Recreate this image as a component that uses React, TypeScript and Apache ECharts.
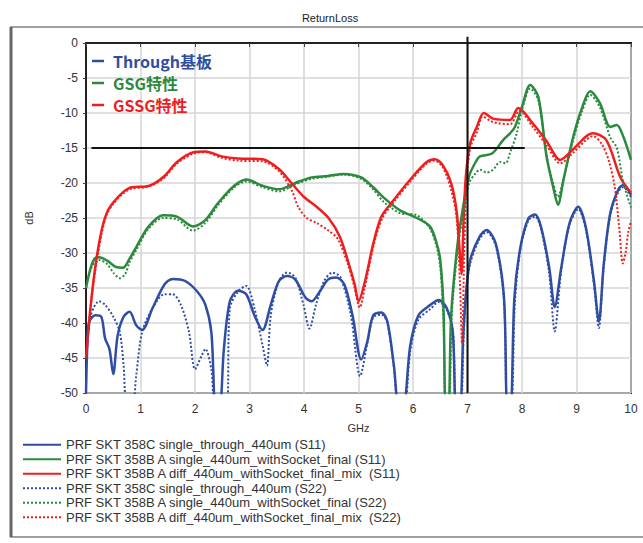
import React, { useEffect, useRef } from "react";
import * as echarts from "echarts";

const titleText = "ReturnLoss";
const xTicks = [0, 1, 2, 3, 4, 5, 6, 7, 8, 9, 10];
const yTicks = [0, -5, -10, -15, -20, -25, -30, -35, -40, -45, -50];

const seriesNames = [
  "PRF SKT 358C single_through_440um (S11)",
  "PRF SKT 358B A single_440um_withSocket_final (S11)",
  "PRF SKT 358B A diff_440um_withSocket_final_mix  (S11)",
  "PRF SKT 358C single_through_440um (S22)",
  "PRF SKT 358B A single_440um_withSocket_final (S22)",
  "PRF SKT 358B A diff_440um_withSocket_final_mix  (S22)",
];

const throughS11: [number, number][] = [
  [0, -50], [0.03, -42], [0.06, -39.8], [0.17, -38.9], [0.28, -39.1], [0.35, -42.2], [0.43, -43.7], [0.5, -47.3],
  [0.58, -41.8], [0.69, -39.1], [0.8, -38.4], [0.92, -40.3], [1.03, -41], [1.22, -37.9], [1.44, -34.5], [1.59, -33.7],
  [1.82, -34], [2.04, -35.5], [2.19, -37.4], [2.3, -41.3], [2.38, -52], [2.45, -52], [2.53, -43.7], [2.64, -36.9],
  [2.79, -35.4], [2.94, -35.9], [3.09, -38.9], [3.24, -41], [3.39, -37.4], [3.54, -34], [3.69, -33.3], [3.84, -33.8],
  [4.03, -36.4], [4.14, -36.9], [4.29, -35.5], [4.44, -33.8], [4.59, -33.5], [4.74, -34.5], [4.89, -38.9], [5.05, -45.2],
  [5.16, -42.7], [5.27, -38.9], [5.42, -38.5], [5.53, -39.8], [5.65, -46.1], [5.74, -52], [5.82, -52], [5.95, -43.2],
  [6.1, -38.9], [6.32, -37.4], [6.47, -36.7], [6.62, -37.9], [6.73, -41.3], [6.79, -52], [6.86, -52], [6.92, -42],
  [6.97, -36], [7.05, -31], [7.22, -27.7], [7.35, -26.7], [7.52, -28.7], [7.67, -36.4], [7.73, -52], [7.79, -52],
  [7.86, -36.4], [7.97, -29.2], [8.12, -25], [8.24, -24.5], [8.35, -26.3], [8.5, -32.1], [8.6, -37.7], [8.72, -32.1],
  [8.87, -25.8], [9.03, -23.4], [9.17, -26.3], [9.32, -34], [9.41, -39.8], [9.5, -31.6], [9.62, -24.3], [9.77, -20.9],
  [9.86, -20.3], [10, -21.7],
];

const throughS22: [number, number][] = [
  [0, -45], [0.09, -38.9], [0.24, -36.9], [0.35, -37.4], [0.5, -39.1], [0.62, -41.3], [0.69, -46.1], [0.75, -52],
  [0.85, -52], [0.92, -47.6], [1.03, -41.3], [1.22, -37.9], [1.44, -35.9], [1.59, -35.9], [1.74, -37.4], [1.89, -41.3],
  [2.0, -46.6], [2.12, -44.7], [2.19, -43.7], [2.3, -46.6], [2.38, -52], [2.57, -52], [2.64, -37.9], [2.79, -35.5],
  [2.94, -34.7], [3.09, -37.9], [3.24, -43.2], [3.32, -46.1], [3.39, -38.9], [3.54, -34], [3.69, -32.8], [3.84, -33.5],
  [3.99, -37.4], [4.1, -40.8], [4.22, -37.4], [4.37, -34], [4.52, -32.8], [4.67, -33.5], [4.86, -38.9], [5.03, -47.6],
  [5.16, -43], [5.27, -39.2], [5.42, -38.8], [5.53, -40], [5.65, -46.5], [5.74, -52], [5.84, -52], [5.95, -44],
  [6.1, -39.5], [6.32, -38], [6.47, -37], [6.6, -37.8], [6.73, -41], [6.79, -52], [6.87, -52], [6.93, -42],
  [6.98, -35], [7.05, -31.5], [7.22, -28], [7.35, -27], [7.52, -29], [7.67, -37], [7.73, -52], [7.8, -52],
  [7.87, -37], [7.97, -29.5], [8.12, -25.3], [8.24, -24.8], [8.35, -26.6], [8.5, -33], [8.6, -41.2], [8.72, -32.5],
  [8.87, -26], [9.03, -23.7], [9.17, -26.6], [9.32, -34.5], [9.41, -40.7], [9.5, -32], [9.62, -24.6], [9.77, -21.2],
  [9.86, -20.6], [10, -22],
];

const gsgS11: [number, number][] = [
  [0, -35], [0.09, -32], [0.17, -30.7], [0.24, -30.6], [0.39, -31.1], [0.55, -32], [0.68, -32.1], [0.8, -30.8],
  [0.92, -29.2], [1.14, -26.3], [1.41, -24.6], [1.67, -24.8], [1.96, -26.2], [2.19, -25.3], [2.42, -22.9], [2.72, -20.4],
  [2.94, -19.5], [3.24, -20.4], [3.54, -20.9], [3.84, -20], [4.14, -19.2], [4.44, -19], [4.72, -18.7], [5.05, -19.2],
  [5.27, -20.6], [5.45, -22], [5.76, -23.9], [6.07, -25], [6.31, -26.2], [6.43, -28.5], [6.5, -31], [6.56, -38],
  [6.6, -52], [6.65, -52], [6.7, -39], [6.81, -29.2], [6.92, -23.4], [7.03, -19], [7.15, -17], [7.23, -16.2],
  [7.45, -15.8], [7.65, -13.9], [7.78, -12.9], [7.87, -12], [8.0, -9.1], [8.15, -6], [8.3, -7.7], [8.45, -16.2],
  [8.57, -20.5], [8.66, -23.1], [8.76, -19.6], [8.94, -13.4], [9.1, -9.3], [9.25, -6.9], [9.43, -8.6], [9.62, -12],
  [9.74, -11.7], [9.86, -13.4], [10, -16.7],
];

const gsgS22: [number, number][] = [
  [0, -35], [0.09, -32.3], [0.17, -31.2], [0.24, -31], [0.39, -31.6], [0.5, -32.8], [0.62, -33.6], [0.72, -33],
  [0.8, -31.3], [0.92, -29.6], [1.14, -26.6], [1.41, -25], [1.67, -25.2], [1.96, -26.8], [2.19, -25.7], [2.42, -23.2],
  [2.72, -20.6], [2.94, -19.8], [3.24, -20.6], [3.54, -21.2], [3.84, -20.2], [4.14, -19.4], [4.44, -19.1], [4.72, -18.8],
  [5.05, -19.4], [5.27, -20.9], [5.45, -22.6], [5.76, -24.3], [6.07, -24.6], [6.31, -26.5], [6.43, -29], [6.5, -32],
  [6.56, -40], [6.6, -52], [6.66, -52], [6.71, -39], [6.82, -29.5], [6.93, -24], [7.03, -20], [7.15, -18.6],
  [7.23, -18.1], [7.35, -18.5], [7.47, -18.1], [7.6, -17], [7.7, -17.2], [7.78, -15.7], [7.9, -13], [8.0, -9.6],
  [8.15, -6.5], [8.3, -8.2], [8.45, -16], [8.57, -20], [8.66, -22], [8.76, -19.4], [8.94, -13.8], [9.1, -9.8],
  [9.25, -7.4], [9.43, -9.2], [9.62, -13.5], [9.74, -15], [9.86, -20], [10, -23.5],
];

const gssgS11: [number, number][] = [
  [0, -45], [0.08, -38], [0.17, -32], [0.28, -27], [0.38, -24.3], [0.5, -22.8], [0.68, -21.3], [0.84, -20.6],
  [1.1, -20.5], [1.25, -20.1], [1.44, -19], [1.67, -17], [1.97, -15.6], [2.19, -15.5], [2.49, -16.2], [2.79, -16.5],
  [3.24, -16.6], [3.54, -18], [3.77, -20], [4.0, -22], [4.23, -23.4], [4.45, -25], [4.66, -27.7], [4.82, -31.5],
  [4.93, -34.5], [5.0, -36.9], [5.12, -34], [5.27, -28.7], [5.42, -24.8], [5.65, -22.4], [5.95, -19.5], [6.25, -17],
  [6.4, -16.6], [6.55, -17.5], [6.7, -20], [6.8, -24], [6.85, -29], [6.89, -33], [6.93, -25], [6.97, -19],
  [7.05, -14.3], [7.17, -12], [7.3, -10], [7.47, -10.8], [7.78, -11], [7.93, -9.3], [8.2, -11.5], [8.45, -14],
  [8.7, -16.7], [8.95, -15.1], [9.17, -13.4], [9.3, -12.9], [9.55, -13.9], [9.8, -19.1], [10, -21.4],
];

const gssgS22: [number, number][] = [
  [0, -45], [0.08, -38], [0.17, -32.5], [0.28, -27.5], [0.38, -24.5], [0.5, -23], [0.68, -21.5], [0.84, -20.8],
  [1.1, -20.6], [1.25, -20.2], [1.44, -19.2], [1.67, -17.2], [1.97, -15.8], [2.19, -15.6], [2.49, -16.4], [2.79, -16.8],
  [3.24, -16.9], [3.54, -18.3], [3.77, -21], [3.9, -23.5], [4.05, -25], [4.23, -25.7], [4.45, -26.8], [4.62, -28],
  [4.8, -31.5], [4.93, -35], [5.02, -37.8], [5.14, -34], [5.29, -28.5], [5.44, -25], [5.67, -22.5], [5.97, -19.6],
  [6.25, -17.2], [6.4, -16.8], [6.55, -17.8], [6.7, -21], [6.8, -25], [6.86, -34], [6.9, -43], [6.94, -30],
  [6.98, -20], [7.05, -15], [7.17, -12.8], [7.28, -10.5], [7.47, -11.3], [7.78, -11.6], [7.95, -9.7], [8.2, -12],
  [8.45, -14.6], [8.7, -17.2], [8.95, -15.6], [9.17, -13.9], [9.3, -13.3], [9.47, -14.5], [9.6, -17], [9.7, -20.5],
  [9.78, -26], [9.85, -31.5], [9.9, -30], [9.95, -27], [10, -25.5],
];

const limitV: [number, number][] = [[7, 0.9], [7, -50]];
const limitH: [number, number][] = [[0.1, -15], [8.05, -15]];

const innerLegend = ["Through基板", "GSG特性", "GSSG特性"];

const BLUE = "#2f4ea3";
const GREEN = "#2b8a3e";
const RED = "#f01e1e";

export default function App() {
  const ref = useRef<HTMLDivElement>(null);
  useEffect(() => {
    if (!ref.current) return;
    const chart = echarts.init(ref.current, undefined, { renderer: "svg" });
    const font = "'Liberation Sans', Arial, sans-serif";
    const mk = (name: string, data: [number, number][], color: string, dotted: boolean) => ({
      name,
      type: "line",
      data,
      showSymbol: false,
      symbol: "none",
      smooth: 0.3,
      lineStyle: { color, width: dotted ? 2 : 2.5, type: dotted ? "dotted" : "solid" },
      itemStyle: { color },
      z: dotted ? 3 : 2,
    });
    const legendRows = innerLegend.map((t, i) => {
      const c = [BLUE, GREEN, RED][i];
      const y = 61 + i * 22;
      return [
        { type: "line", shape: { x1: 92, y1: y, x2: 104, y2: y }, style: { stroke: c, lineWidth: 2.5 }, z: 10 },
        {
          type: "text",
          x: 113,
          y,
          style: {
            text: t,
            fill: c,
            font: "bold 16px 'Noto Sans CJK SC', sans-serif",
            textVerticalAlign: "middle",
          },
          z: 10,
        },
      ];
    }).flat();
    chart.setOption({
      animation: false,
      backgroundColor: "#ffffff",
      grid: { left: 86, top: 43, width: 545, height: 350, show: true, borderColor: "#222", borderWidth: 2, backgroundColor: "transparent" },
      xAxis: {
        type: "value",
        min: 0,
        max: 10,
        interval: 1,
        name: "GHz",
        nameLocation: "middle",
        nameGap: 29,
        nameTextStyle: { fontSize: 11, color: "#333", fontFamily: font },
        axisLine: { show: true, lineStyle: { color: "#222", width: 2 } },
        axisTick: { show: true, length: 4, lineStyle: { color: "#444" } },
        axisLabel: { fontSize: 12, color: "#333", fontFamily: font, margin: 10, formatter: (v: number) => String(v) },
        splitLine: { show: true, lineStyle: { color: "#d6d6d6", width: 1.5 } },
      },
      yAxis: {
        type: "value",
        min: -50,
        max: 0,
        interval: 5,
        name: "dB",
        nameLocation: "middle",
        nameRotate: 90,
        nameGap: 52,
        nameTextStyle: { fontSize: 11, color: "#333", fontFamily: font },
        axisLine: { show: true, lineStyle: { color: "#222", width: 2 } },
        axisTick: { show: true, length: 3, lineStyle: { color: "#444" } },
        axisLabel: { fontSize: 12, color: "#333", fontFamily: font, margin: 8, formatter: (v: number) => String(v) },
        splitLine: { show: true, lineStyle: { color: "#d6d6d6", width: 1.5 } },
      },
      legend: {
        orient: "vertical",
        left: 17,
        top: 433,
        itemWidth: 38,
        itemHeight: 10,
        itemGap: 1,
        data: seriesNames,
        itemStyle: { opacity: 0 },
        textStyle: { fontSize: 13, lineHeight: 13.5, color: "#333", fontFamily: font },
        selectedMode: false,
      },
      graphic: [
        { type: "rect", shape: { x: 11, y: 27, width: 645, height: 510 }, style: { fill: "none", stroke: "#a0a0a0", lineWidth: 2 }, z: 0 },
        { type: "line", shape: { x1: 11, y1: 27, x2: 11, y2: 537 }, style: { stroke: "#666", lineWidth: 3 }, z: 0 },
        {
          type: "text",
          x: 330,
          y: 18,
          style: { text: titleText, fill: "#222", font: `11px ${font}`, textAlign: "center", textVerticalAlign: "middle" },
        },
        ...legendRows,
      ],
      series: [
        mk(seriesNames[0], throughS11, BLUE, false),
        mk(seriesNames[1], gsgS11, GREEN, false),
        mk(seriesNames[2], gssgS11, RED, false),
        mk(seriesNames[3], throughS22, BLUE, true),
        mk(seriesNames[4], gsgS22, GREEN, true),
        mk(seriesNames[5], gssgS22, RED, true),
        {
          name: "limitV",
          type: "line",
          data: limitV,
          showSymbol: false,
          symbol: "none",
          clip: false,
          lineStyle: { color: "#111", width: 2 },
          z: 5,
        },
        {
          name: "limitH",
          type: "line",
          data: limitH,
          showSymbol: false,
          symbol: "none",
          clip: false,
          lineStyle: { color: "#111", width: 2 },
          z: 5,
        },
      ],
    });
    return () => chart.dispose();
  }, []);
  return <div ref={ref} style={{ position: "fixed", left: 0, top: 0, width: 643, height: 543 }} />;
}
